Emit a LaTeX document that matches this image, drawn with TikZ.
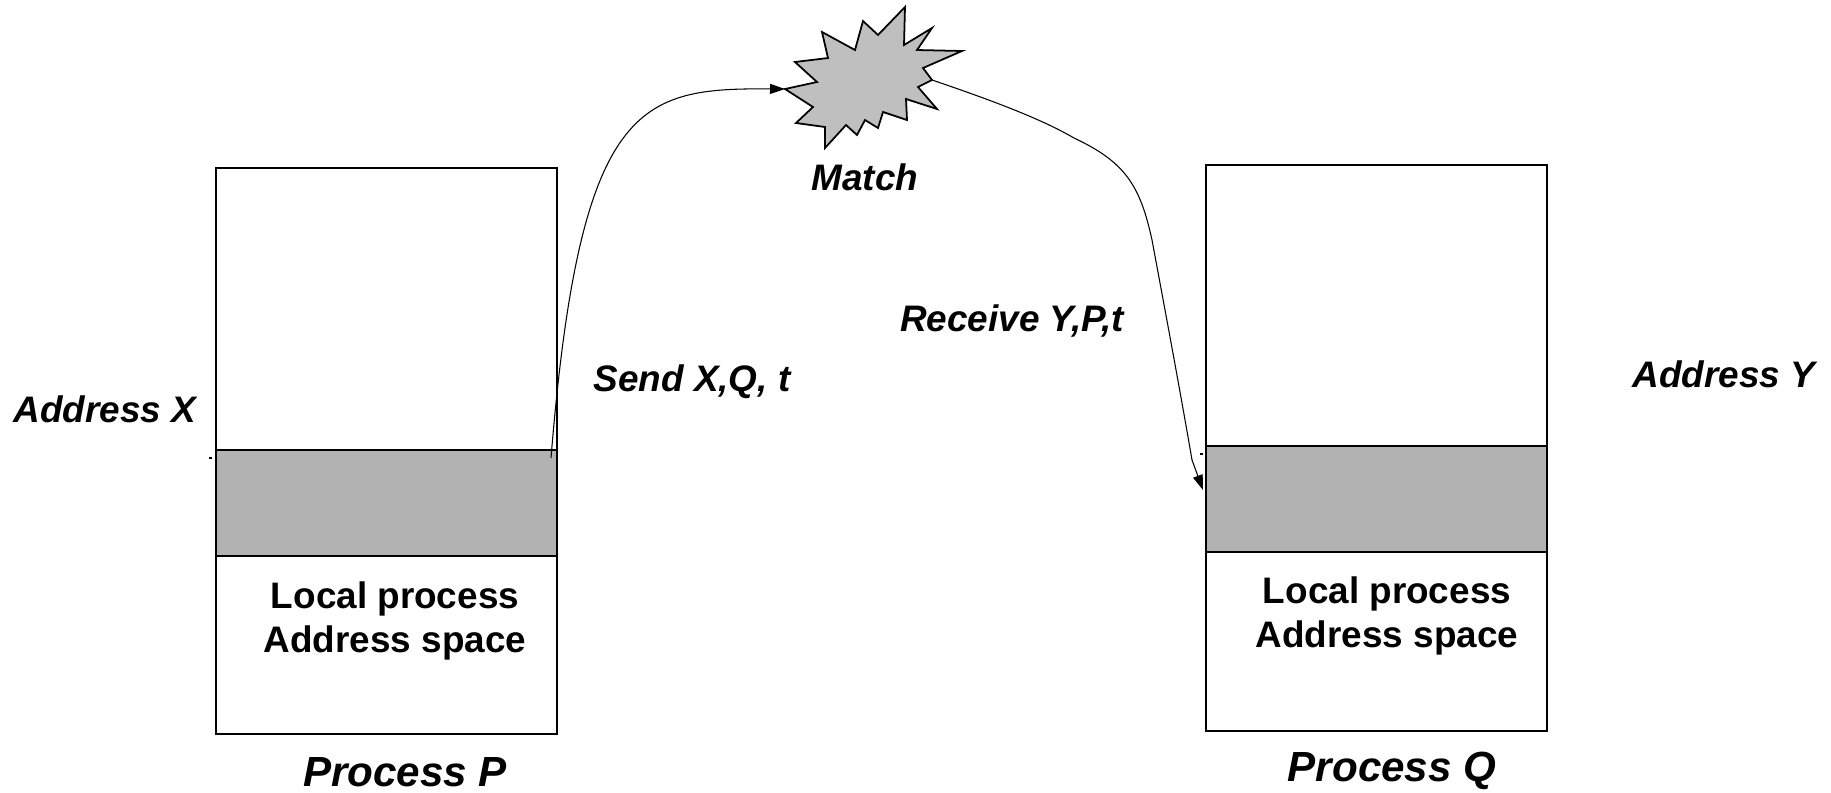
\documentclass[tikz,border=0pt]{standalone}
\usepackage{fontspec}
\setmainfont{Liberation Sans}
\usetikzlibrary{arrows.meta}

\begin{document}
\begin{tikzpicture}[x=0.02cm,y=-0.02cm,
  lbl/.style={font=\fontsize{21}{25}\selectfont\bfseries\itshape},
  boxtxt/.style={font=\fontsize{21}{25}\selectfont\bfseries,align=center},
  proclbl/.style={font=\fontsize{24}{28}\selectfont\bfseries\itshape,inner sep=0pt},
  msg/.style={line width=0.6pt,-{Triangle[length=0.3cm,width=0.2cm]}}]
\useasboundingbox (0,0) rectangle (1831,792);
\draw[line width=1pt] (216,168) rectangle (557,734);
\draw[fill=black!30,line width=1pt] (216,450) rectangle (557,556);
\draw[line width=1pt] (1206,165) rectangle (1547,731);
\draw[fill=black!30,line width=1pt] (1206,446) rectangle (1547,552);
\draw[fill=black!25,line width=1pt] (905,7) -- (904,45) -- (932,28) -- (917,50) -- (962,51)
  -- (923,68) -- (932,80) -- (918,87) -- (937,109) -- (906,99) -- (907,120) -- (883,112)
  -- (878,128) -- (865,120) -- (857,135) -- (846,125) -- (825,148) -- (825,127) -- (796,123)
  -- (813,107) -- (785,89) -- (817,82) -- (795,62) -- (828,58) -- (822,32) -- (855,50)
  -- (863,21) -- (878,35) -- cycle;
\coordinate (burstin) at (785,89);
\coordinate (burstout) at (932,80);
\coordinate (sendfrom) at (551,458);
\coordinate (recvto) at (1203,490);
\draw[msg] (sendfrom) .. controls (580,100) and (640,88) .. (burstin);
\draw[msg] (burstout) .. controls (985,98) and (1040,118) .. (1074,138)
  .. controls (1125,162) and (1140,185) .. (1152,240)
  .. controls (1165,310) and (1180,390) .. (1192,460) -- (recvto);
\draw[line width=0.6pt] (209,458) -- (212,458);
\draw[line width=0.6pt] (1200,454) -- (1203,454);
\node[lbl] (match) at (865,177) {Match};
\node[lbl] (addrx) at (105,409) {Address X};
\node[lbl] (send) at (692,382) {Send X,Q, t};
\node[lbl] (recv) at (1012,321) {Receive Y,P,t};
\node[lbl] (addry) at (1724,374) {Address Y};
\node[boxtxt] (localp) at (395,621) {Local process\\Address space};
\node[boxtxt] (localq) at (1387,616) {Local process\\Address space};
\node[proclbl] (procp) at (405,772) {Process P};
\node[proclbl] (procq) at (1392,771) {Process Q};
\end{tikzpicture}
\end{document}
